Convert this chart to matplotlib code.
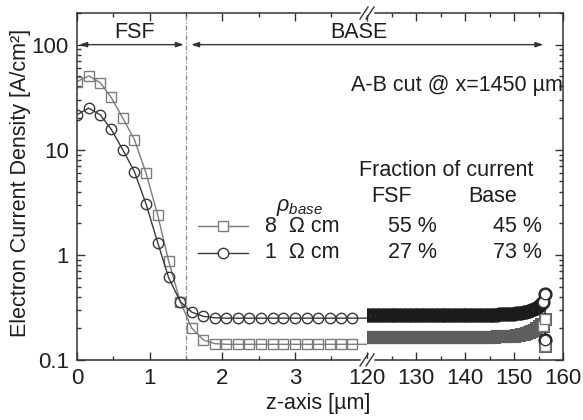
import numpy as np
import matplotlib
matplotlib.use("Agg")
import matplotlib.pyplot as plt
from matplotlib.lines import Line2D
from matplotlib.ticker import FixedLocator, FuncFormatter, LogLocator, NullFormatter

plt.rcParams['font.family'] = ['Liberation Sans', 'DejaVu Sans']
plt.rcParams['mathtext.fontset'] = 'custom'
plt.rcParams['mathtext.it'] = 'Liberation Sans:italic'
plt.rcParams['mathtext.rm'] = 'Liberation Sans'

# ---- data: FSF / near-surface region (z in um) ----
z_front = [0.0, 0.16, 0.32, 0.47, 0.63, 0.79, 0.95, 1.11, 1.26, 1.42, 1.58, 1.74,
           1.90, 2.05, 2.21, 2.37, 2.53, 2.69, 2.84, 3.00, 3.16, 3.32, 3.48, 3.63, 3.79]
j_8ohm_front = [44.5, 50.5, 43.5, 31.5, 20.0, 12.5, 6.0, 2.4, 0.88, 0.36, 0.20, 0.155,
                0.143, 0.141, 0.141, 0.141, 0.141, 0.141, 0.141, 0.141, 0.141, 0.141,
                0.141, 0.141, 0.141]
j_1ohm_front = [21.5, 24.9, 21.5, 15.7, 10.0, 6.2, 3.05, 1.31, 0.61, 0.36, 0.285, 0.26,
                0.252, 0.25, 0.25, 0.25, 0.25, 0.25, 0.25, 0.25, 0.25, 0.25,
                0.25, 0.25, 0.25]

# ---- data: deep base region up to the rear side ----
z_rear = [120.0, 120.5, 121.0, 121.5, 122.0, 122.5, 123.0, 123.5, 124.0, 124.5,
          125.0, 125.5, 126.0, 126.5, 127.0, 127.5, 128.0, 128.5, 129.0, 129.5,
          130.0, 130.5, 131.0, 131.5, 132.0, 132.5, 133.0, 133.5, 134.0, 134.5,
          135.0, 135.5, 136.0, 136.5, 137.0, 137.5, 138.0, 138.5, 139.0, 139.5,
          140.0, 140.5, 141.0, 141.5, 142.0, 142.5, 143.0, 143.5, 144.0, 144.5,
          145.0, 145.5, 146.0, 146.5, 147.0, 147.5, 148.0, 148.5, 149.0, 149.5,
          150.0, 150.5, 151.0, 151.5, 152.0, 152.5, 153.0, 153.5, 154.0, 154.5,
          155.0, 155.5, 156.0, 156.3, 156.4]
j_8ohm_rear = [0.166, 0.166, 0.166, 0.166, 0.166, 0.166, 0.166, 0.166, 0.166, 0.166,
               0.166, 0.166, 0.166, 0.166, 0.166, 0.166, 0.166, 0.166, 0.166, 0.166,
               0.166, 0.166, 0.166, 0.166, 0.166, 0.166, 0.166, 0.166, 0.166, 0.166,
               0.166, 0.166, 0.166, 0.166, 0.166, 0.166, 0.166, 0.166, 0.166, 0.166,
               0.166, 0.166, 0.166, 0.166, 0.167, 0.167, 0.167, 0.167, 0.167, 0.167,
               0.167, 0.167, 0.167, 0.168, 0.168, 0.168, 0.168, 0.169, 0.169, 0.170,
               0.171, 0.172, 0.173, 0.175, 0.177, 0.180, 0.184, 0.189, 0.195, 0.202,
               0.211, 0.220, 0.212, 0.246, 0.137]
j_1ohm_rear = [0.268, 0.268, 0.268, 0.268, 0.268, 0.268, 0.268, 0.268, 0.268, 0.268,
               0.268, 0.268, 0.268, 0.268, 0.268, 0.268, 0.268, 0.268, 0.268, 0.268,
               0.268, 0.268, 0.268, 0.268, 0.268, 0.268, 0.268, 0.268, 0.268, 0.268,
               0.268, 0.268, 0.268, 0.268, 0.268, 0.268, 0.268, 0.268, 0.268, 0.268,
               0.268, 0.268, 0.268, 0.268, 0.269, 0.269, 0.269, 0.269, 0.269, 0.269,
               0.269, 0.270, 0.270, 0.270, 0.271, 0.271, 0.272, 0.272, 0.273, 0.274,
               0.275, 0.277, 0.279, 0.281, 0.284, 0.288, 0.293, 0.299, 0.306, 0.315,
               0.327, 0.340, 0.355, 0.425, 0.156]

legend_labels = ["8  \u03a9 cm", "1  \u03a9 cm"]
fsf_fraction = ["55 %", "27 %"]
base_fraction = ["45 %", "73 %"]

xticks_front = [0, 1, 2, 3]
xticks_rear = [120, 130, 140, 150, 160]
yticks = [0.1, 1, 10, 100]

C8 = '#7c7c7c'
C1 = '#383838'
C8_dense = '#5e5e5e'
C1_dense = '#1c1c1c'
TXT = '#1e1e1e'
FS = 15.5

W, H = 583, 420
fig = plt.figure(figsize=(W / 100, H / 100), dpi=100)


def fx(px):
    return px / W


def fy(py):
    return 1 - py / H


x0, xb, x1 = 77, 367, 563
ytop, ybot = 13, 360
axL = fig.add_axes([fx(x0), fy(ybot), fx(xb) - fx(x0), fy(ytop) - fy(ybot)])
axR = fig.add_axes([fx(xb), fy(ybot), fx(x1) - fx(xb), fy(ytop) - fy(ybot)], sharey=axL)

for ax in (axL, axR):
    ax.set_yscale('log')
    ax.set_facecolor('none')
    for s in ax.spines.values():
        s.set_linewidth(1.1)
        s.set_color('#333333')
    ax.tick_params(which='both', direction='in', top=True, colors='#333333',
                   labelcolor=TXT, labelsize=16, width=1.0)
    ax.tick_params(which='major', length=6, pad=6)
    ax.tick_params(which='minor', length=3)

axL.set_ylim(0.1, 200)
axL.set_xlim(0, 3.99)
axR.set_xlim(120, 160)

axL.spines['right'].set_visible(False)
axR.spines['left'].set_visible(False)
axL.tick_params(which='both', right=False)
axR.tick_params(which='both', left=False, labelleft=False, right=True)

axL.xaxis.set_major_locator(FixedLocator(xticks_front))
axL.xaxis.set_minor_locator(FixedLocator([0.5, 1.5, 2.5, 3.5]))
axR.xaxis.set_major_locator(FixedLocator(xticks_rear))
axR.xaxis.set_minor_locator(FixedLocator([125, 135, 145, 155]))
axL.yaxis.set_major_locator(FixedLocator(yticks))
axL.yaxis.set_minor_locator(LogLocator(base=10, subs=np.arange(2, 10)))
axL.yaxis.set_major_formatter(FuncFormatter(lambda v, p: '%g' % v))
axL.yaxis.set_minor_formatter(NullFormatter())

mk = dict(markerfacecolor='none', markeredgewidth=1.0, lw=1.0)
# front part, extended toward the first rear point so the line runs to the break
axL.plot(z_front + z_rear[:1], j_8ohm_front + j_8ohm_rear[:1], color=C8, marker='s', ms=7, **mk)
axL.plot(z_front + z_rear[:1], j_1ohm_front + j_1ohm_rear[:1], color=C1, marker='o', ms=7.5, **mk)
# rear part: densely sampled, overlapping markers merge into a band
axR.plot(z_rear, j_8ohm_rear, color=C8_dense, marker='s', ms=7.5,
         markerfacecolor='none', markeredgewidth=2.2, lw=1.0)
axR.plot(z_rear, j_1ohm_rear, color=C1_dense, marker='o', ms=8,
         markerfacecolor='none', markeredgewidth=2.2, lw=1.0)
# last rear-side points drawn as plain open markers on top
axR.plot(z_rear[-3:], j_8ohm_rear[-3:], ls='none', color=C8, marker='s', ms=7,
         markerfacecolor='white', markeredgewidth=1.0)
axR.plot(z_rear[-3:], j_1ohm_rear[-3:], ls='none', color=C1, marker='o', ms=7.5,
         markerfacecolor='white', markeredgewidth=1.0)

# FSF / base boundary
axL.axvline(1.5, color='#8a8a8a', lw=0.9, ls=(0, (4, 1.5, 1, 1.5)))

# region arrows
arrow = dict(arrowstyle='<|-|>,head_length=0.45,head_width=0.15', color='#333333',
             lw=1.0, shrinkA=0, shrinkB=0)
axL.annotate('', xy=(1.47, 100), xytext=(0.03, 100), arrowprops=arrow)
axR.annotate('', xy=(156, 100), xytext=(1.57, 100), textcoords=axL.transData,
             arrowprops=arrow)
fig.text(fx(135), fy(32), 'FSF', ha='center', va='center', fontsize=FS, color=TXT)
fig.text(fx(359), fy(32), 'BASE', ha='center', va='center', fontsize=FS, color=TXT)

fig.text(fx(351), fy(86), 'A-B cut @ x=1450 \u00b5m', ha='left', va='center',
         fontsize=FS, color=TXT)
fig.text(fx(359), fy(170), 'Fraction of current', ha='left', va='center',
         fontsize=FS, color=TXT)
fig.text(fx(392), fy(197), 'FSF', ha='center', va='center', fontsize=FS, color=TXT)
fig.text(fx(493), fy(197), 'Base', ha='center', va='center', fontsize=FS, color=TXT)
fig.text(fx(276), fy(207), r'$\rho_{base}$', ha='left', va='center',
         fontsize=FS, color=TXT)

# legend rows
rows_y = [226, 253]
styles = [(C8, 's', 7), (C1, 'o', 7.5)]
for ry, lab, ff, bf, (c, m, s) in zip(rows_y, legend_labels, fsf_fraction, base_fraction, styles):
    fig.add_artist(Line2D([fx(198), fx(248)], [fy(ry), fy(ry)], color=c, lw=1.0,
                          transform=fig.transFigure))
    fig.add_artist(Line2D([fx(223)], [fy(ry)], color=c, marker=m, ms=s,
                          markerfacecolor='white', markeredgewidth=1.0,
                          transform=fig.transFigure))
    fig.text(fx(265), fy(ry), lab, ha='left', va='center', fontsize=FS, color=TXT)
    fig.text(fx(412), fy(ry), ff, ha='center', va='center', fontsize=FS, color=TXT)
    fig.text(fx(517), fy(ry), bf, ha='center', va='center', fontsize=FS, color=TXT)

# axis break marks
for yc in (ytop, ybot):
    fig.add_artist(Line2D([fx(362), fx(372)], [fy(yc), fy(yc)], color='white', lw=2.5,
                          transform=fig.transFigure))
    for dx in (-3, 3):
        fig.add_artist(Line2D([fx(xb + dx - 4), fx(xb + dx + 4)], [fy(yc + 6), fy(yc - 6)],
                              color='#333333', lw=1.0, transform=fig.transFigure))

fig.text(fx(21), fy(183), 'Electron Current Density [A/cm\u00b2]', rotation=90,
         ha='center', va='center', fontsize=FS, color=TXT)
fig.text(fx(318), fy(404), 'z-axis [\u00b5m]', ha='center', va='center',
         fontsize=FS, color=TXT)

fig.savefig('out.png', dpi=100)
